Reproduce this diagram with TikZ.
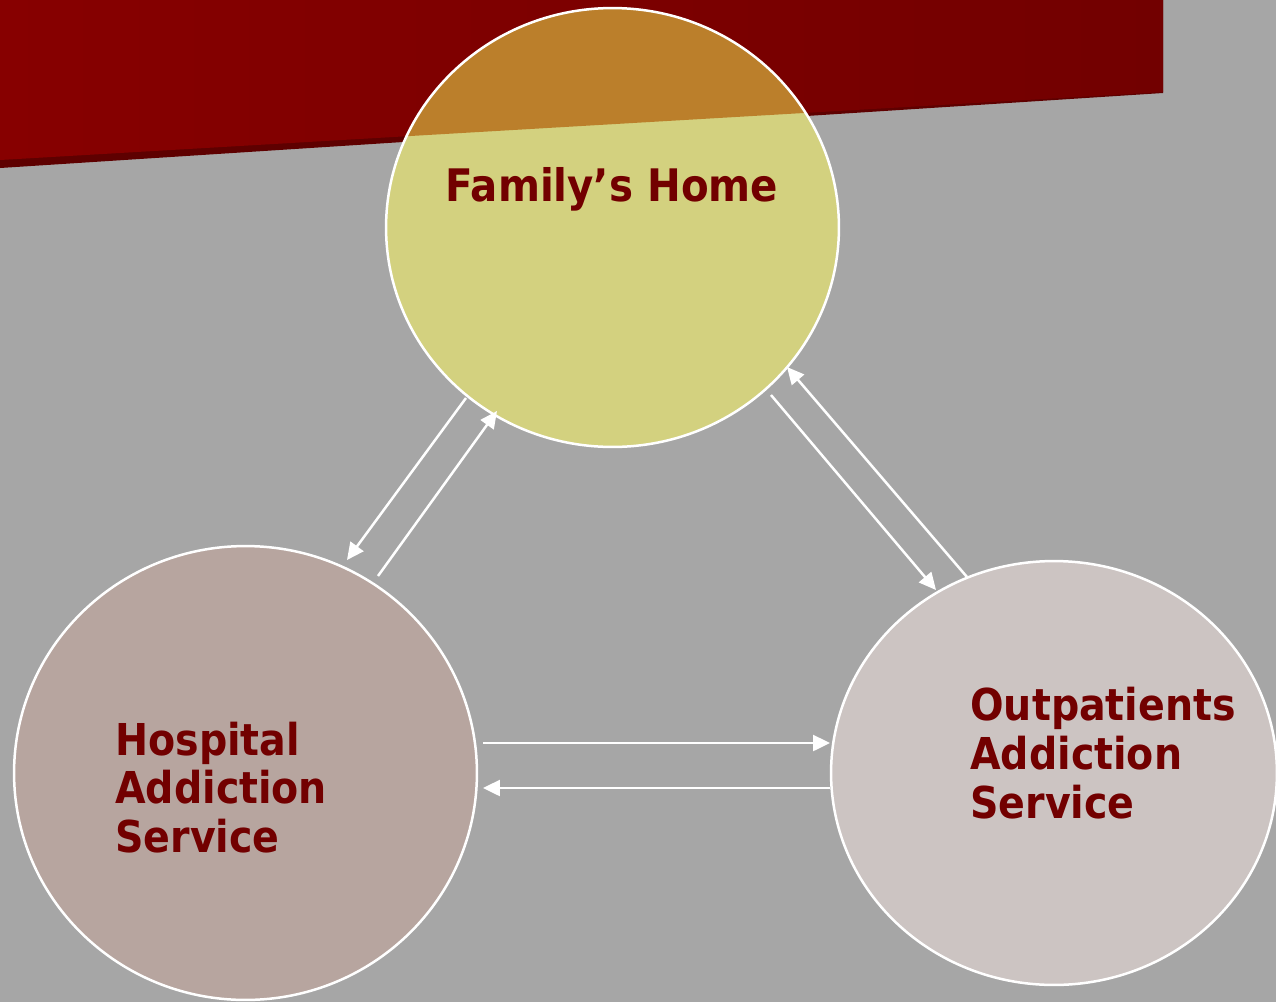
\documentclass[tikz,border=0pt]{standalone}
\usepackage{fontspec}
\newfontfamily\lblfont{DejaVu Sans Condensed}
\usetikzlibrary{shapes.geometric,arrows.meta}
\definecolor{bg}{HTML}{A6A6A6}
\definecolor{bannerL}{HTML}{870000}
\definecolor{bannerR}{HTML}{720000}
\definecolor{shadowc}{HTML}{5E0000}
\definecolor{famfill}{HTML}{D3D17F}
\definecolor{famover}{HTML}{BB7F2B}
\definecolor{hospfill}{HTML}{B7A59F}
\definecolor{outfill}{HTML}{CCC4C2}
\definecolor{txt}{HTML}{720000}
\begin{document}
\begin{tikzpicture}[x=0.02cm,y=-0.02cm,
  circ/.style={ellipse, draw=white, line width=0.05cm, inner sep=0pt, outer sep=0pt},
  lbl/.style={text=txt, font=\lblfont\bfseries\fontsize{25}{30}\selectfont, inner sep=0pt},
  conn/.style={draw=white, line width=0.05cm, -{Triangle[length=0.34cm,width=0.32cm]}}]
\useasboundingbox (0,0) rectangle (1276,1002);
\clip (0,0) rectangle (1276,1002);
\fill[bg] (0,0) rectangle (1276,1002);
% banner
\fill[shadowc] (0,0) -- (1163,0) -- (1163,93) -- (0,168) -- cycle;
\shade[left color=bannerL, right color=bannerR] (0,0) -- (1163,0) -- (1163,92) -- (0,160) -- cycle;
% circles
\node[circ, fill=famfill, draw=none, minimum width=9.06cm, minimum height=8.78cm] (fam) at (612.5,227.5) {};
\begin{scope}
  \clip (fam.center) ellipse [x radius=4.53cm, y radius=4.39cm];
  \fill[famover] (0,0) -- (1163,0) -- (1163,92) -- (0,160) -- cycle;
\end{scope}
\draw[white, line width=0.05cm] (fam.center) ellipse [x radius=4.53cm, y radius=4.39cm];
\node[circ, fill=hospfill, minimum width=9.26cm, minimum height=9.08cm] (hosp) at (245.5,773) {};
\node[circ, fill=outfill, minimum width=8.92cm, minimum height=8.48cm] (outp) at (1054,773) {};
% labels
\node[lbl, anchor=base, font=\lblfont\bfseries\fontsize{25.5}{30}\selectfont] (famtxt) at (612,201) {Family’s Home};
\node[lbl, anchor=base west] (h1) at (115,755) {Hospital};
\node[lbl, anchor=base west] (h2) at (115,803) {Addiction};
\node[lbl, anchor=base west] (h3) at (115,852) {Service};
\node[lbl, anchor=base west] (o1) at (970,720) {Outpatients};
\node[lbl, anchor=base west] (o2) at (970,769) {Addiction};
\node[lbl, anchor=base west] (o3) at (970,818) {Service};
% connector ends
\coordinate (a1s) at (466,398); \coordinate (a1e) at (347,560);
\coordinate (a2s) at (378,576); \coordinate (a2e) at (497,411);
\coordinate (a3s) at (771,395); \coordinate (a3e) at (936,590);
\coordinate (a4s) at (967,577); \coordinate (a4e) at (787,367);
\coordinate (a5s) at (483,743); \coordinate (a5e) at (830,743);
\coordinate (a6s) at (830,788); \coordinate (a6e) at (483,788);
\draw[conn] (a1s) -- (a1e);
\draw[conn] (a2s) -- (a2e);
\draw[conn] (a3s) -- (a3e);
\draw[conn] (a4s) -- (a4e);
\draw[conn] (a5s) -- (a5e);
\draw[conn] (a6s) -- (a6e);
\end{tikzpicture}
\end{document}
